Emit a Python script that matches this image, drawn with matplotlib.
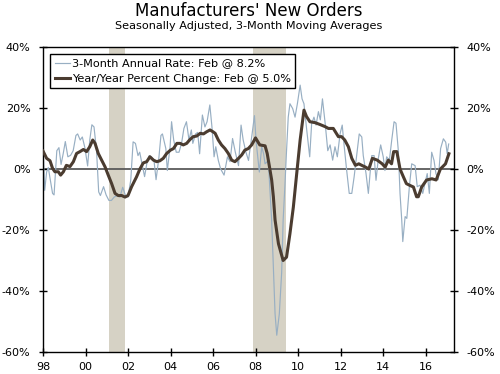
import matplotlib
matplotlib.use("Agg")
import matplotlib.pyplot as plt

# 3-month annual rate (thin line), decimal year / percent
rate_dates = [
    1998.00, 1998.08, 1998.17, 1998.25, 1998.33, 1998.45, 1998.52, 1998.65, 1998.75, 1998.85,
    1998.95, 1999.05, 1999.17, 1999.30, 1999.42, 1999.55, 1999.63, 1999.75, 1999.85, 1999.97,
    2000.10, 2000.20, 2000.30, 2000.40, 2000.52, 2000.62, 2000.70, 2000.85, 2000.97, 2001.10,
    2001.22, 2001.35, 2001.50, 2001.62, 2001.75, 2001.87, 2002.00, 2002.13, 2002.24, 2002.35,
    2002.47, 2002.55, 2002.66, 2002.78, 2002.90, 2003.00, 2003.10, 2003.22, 2003.32, 2003.45,
    2003.55, 2003.62, 2003.78, 2003.85, 2003.98, 2004.05, 2004.15, 2004.27, 2004.40, 2004.52,
    2004.63, 2004.75, 2004.87, 2004.98, 2005.05, 2005.18, 2005.28, 2005.37, 2005.50, 2005.62,
    2005.72, 2005.85, 2005.95, 2006.05, 2006.13, 2006.25, 2006.36, 2006.52, 2006.68, 2006.80,
    2006.92, 2007.05, 2007.20, 2007.32, 2007.42, 2007.55, 2007.67, 2007.83, 2007.95, 2008.03,
    2008.18, 2008.29, 2008.38, 2008.45, 2008.60, 2008.76, 2008.84, 2008.92, 2009.00, 2009.12,
    2009.23, 2009.30, 2009.38, 2009.46, 2009.54, 2009.62, 2009.75, 2009.86, 2009.97, 2010.10,
    2010.19, 2010.28, 2010.41, 2010.55, 2010.64, 2010.75, 2010.85, 2010.96, 2011.05, 2011.15,
    2011.28, 2011.40, 2011.51, 2011.63, 2011.74, 2011.85, 2011.98, 2012.08, 2012.16, 2012.29,
    2012.41, 2012.53, 2012.64, 2012.76, 2012.88, 2013.00, 2013.07, 2013.20, 2013.31, 2013.39,
    2013.47, 2013.58, 2013.67, 2013.78, 2013.89, 2014.01, 2014.09, 2014.17, 2014.30, 2014.41,
    2014.52, 2014.61, 2014.72, 2014.80, 2014.88, 2014.93, 2015.04, 2015.12, 2015.24, 2015.35,
    2015.51, 2015.61, 2015.74, 2015.87, 2015.98, 2016.08, 2016.18, 2016.29, 2016.40, 2016.49,
    2016.60, 2016.71, 2016.84, 2016.95, 2017.02, 2017.09,
]
rate_values = [
    7.5, -7.0, -1.0, 0.5, -3.0, -8.0, -8.5, 6.0, 7.0, 1.5,
    5.0, 9.0, 4.0, 4.5, 6.0, 11.0, 11.5, 9.5, 10.5, 7.0,
    1.0, 9.5, 14.5, 13.8, 6.0, -7.5, -8.7, -5.8, -8.5, -10.3,
    -10.3, -9.2, -8.7, -9.2, -6.0, -8.5, -9.2, -3.6, 8.9, 8.4,
    4.4, 5.5, 1.7, -2.5, 2.4, 4.4, 4.0, 3.0, -3.5, 3.5,
    11.0, 11.5, 6.7, -0.5, 7.3, 15.5, 9.5, 5.5, 5.5, 8.4,
    13.3, 15.5, 9.5, 12.8, 8.4, 11.5, 12.0, 5.0, 17.7, 13.8,
    15.5, 21.0, 13.8, 4.0, 7.3, 2.8, 0.0, -2.0, 4.0, 2.4,
    10.0, 5.5, 1.1, 14.4, 9.5, 5.5, 2.8, 11.0, 17.5, 9.0,
    -1.0, 7.3, 5.0, 1.7, 2.8, -16.8, -32.0, -47.5, -54.5, -47.5,
    -34.0, -16.8, -5.9, 6.0, 17.0, 21.4, 19.8, 17.0, 21.4, 27.5,
    23.0, 21.4, 12.8, 4.0, 14.8, 17.0, 14.4, 18.8, 16.1, 23.0,
    14.8, 6.0, 7.9, 2.9, 7.3, 4.0, 11.6, 14.4, 8.4, -0.5,
    -8.0, -8.0, -2.6, 4.4, 11.5, 10.5, 4.4, -1.5, -8.0, -1.5,
    4.4, 4.4, -3.7, 3.5, 7.9, 4.0, -0.5, 4.0, 2.9, 9.5,
    15.5, 15.0, 6.0, -8.0, -16.7, -23.8, -15.6, -16.2, -5.8, 1.7,
    1.1, -5.8, -5.3, -8.0, -4.5, -1.5, -8.0, 5.5, 2.8, -1.5,
    -3.5, 6.7, 9.9, 8.8, 5.0, 8.2,
]

# year/year percent change (thick line)
yoy_dates = [
    1998.00, 1998.17, 1998.33, 1998.45, 1998.56, 1998.72, 1998.83, 1998.96, 1999.10, 1999.27,
    1999.43, 1999.58, 1999.74, 1999.90, 2000.05, 2000.20, 2000.34, 2000.45, 2000.60, 2000.76,
    2000.92, 2001.07, 2001.23, 2001.39, 2001.54, 2001.70, 2001.86, 2002.00, 2002.17, 2002.40,
    2002.56, 2002.72, 2002.88, 2003.03, 2003.20, 2003.35, 2003.50, 2003.66, 2003.82, 2004.00,
    2004.14, 2004.30, 2004.45, 2004.60, 2004.76, 2004.92, 2005.07, 2005.23, 2005.40, 2005.55,
    2005.70, 2005.86, 2006.00, 2006.10, 2006.25, 2006.40, 2006.56, 2006.72, 2006.88, 2007.03,
    2007.20, 2007.35, 2007.50, 2007.66, 2007.82, 2008.00, 2008.20, 2008.45, 2008.55, 2008.65,
    2008.76, 2008.84, 2008.92, 2009.08, 2009.30, 2009.46, 2009.62, 2009.78, 2009.94, 2010.10,
    2010.28, 2010.40, 2010.56, 2010.80, 2011.03, 2011.27, 2011.43, 2011.66, 2011.90, 2012.05,
    2012.20, 2012.37, 2012.53, 2012.70, 2012.86, 2013.00, 2013.18, 2013.33, 2013.50, 2013.73,
    2013.96, 2014.10, 2014.25, 2014.40, 2014.50, 2014.65, 2014.80, 2014.96, 2015.10, 2015.27,
    2015.43, 2015.58, 2015.66, 2015.82, 2016.05, 2016.30, 2016.50, 2016.70, 2016.94, 2017.10,
]
yoy_values = [
    5.9, 3.5, 2.7, 0.2, -0.9, -0.9, -2.0, -0.9, 1.2, 0.8,
    2.4, 5.1, 5.7, 6.4, 5.7, 7.3, 9.5, 8.4, 5.1, 2.9,
    0.7, -2.0, -4.8, -8.0, -8.7, -8.7, -9.2, -8.7, -5.8, -2.6,
    0.0, 2.0, 2.4, 4.0, 2.9, 2.4, 2.7, 3.5, 5.1, 6.2,
    6.7, 8.4, 8.4, 7.9, 8.4, 9.7, 10.6, 10.8, 11.7, 11.5,
    12.2, 12.8, 12.2, 11.7, 9.5, 7.9, 6.7, 5.1, 2.9, 2.4,
    3.5, 4.6, 6.2, 6.7, 7.9, 10.2, 7.9, 7.6, 5.1, 1.0,
    -3.6, -9.1, -16.7, -24.5, -30.0, -28.9, -21.2, -12.5, -1.4, 9.5,
    19.3, 17.2, 15.5, 15.2, 14.6, 13.9, 13.3, 13.3, 10.6, 10.6,
    9.5, 7.3, 3.5, 1.2, 1.7, 1.2, 0.6, 0.0, 3.5, 2.9,
    1.7, 0.6, 2.9, 1.7, 5.7, 5.7, 0.0, -2.6, -4.8, -5.4,
    -5.9, -9.1, -9.1, -5.9, -3.6, -3.2, -3.6, 0.0, 1.7, 5.0,
]

recession_start = [2001.12, 2007.87]
recession_end = [2001.86, 2009.43]

x_ticks = [1998, 2000, 2002, 2004, 2006, 2008, 2010, 2012, 2014, 2016]
x_labels = ["98", "00", "02", "04", "06", "08", "10", "12", "14", "16"]
y_ticks = [-60, -40, -20, 0, 20, 40]

plt.rcParams["font.family"] = "DejaVu Sans"

fig = plt.figure(figsize=(5.0, 3.74), dpi=100)
ax = fig.add_axes([43 / 500, 22 / 374, 411 / 500, 305 / 374])

for s, e in zip(recession_start, recession_end):
    ax.axvspan(s, e, color="#d6d2c5", lw=0, zorder=0)

ax.axhline(0, color="#5a5a5a", lw=1.3, zorder=1)

ax.plot(rate_dates, rate_values, color="#98afc3", lw=0.85, zorder=2,
        label="3-Month Annual Rate: Feb @ 8.2%")
ax.plot(yoy_dates, yoy_values, color="#4b3c30", lw=2.2, zorder=3,
        label="Year/Year Percent Change: Feb @ 5.0%")

ax.set_xlim(1998.0, 2017.34)
ax.set_ylim(-60, 40)
ax.set_xticks(x_ticks)
ax.set_xticklabels(x_labels)
ax.set_yticks(y_ticks)
ax.set_yticklabels([f"{v}%" for v in y_ticks])

ax.tick_params(axis="both", direction="inout", length=6, width=1, labelsize=8,
               colors="black")
ax.tick_params(axis="y", right=True, labelright=True, pad=6)
ax.tick_params(axis="x", pad=4)
for sp in ax.spines.values():
    sp.set_linewidth(1.0)

leg = ax.legend(loc="upper left", bbox_to_anchor=(50 / 500, 1 - 54 / 374),
                bbox_transform=fig.transFigure, borderaxespad=0, fontsize=8.1,
                fancybox=False, edgecolor="black", framealpha=1,
                handlelength=1.4, handletextpad=0.15, borderpad=0.4,
                labelspacing=0.45)
leg.get_frame().set_linewidth(1.0)

fig.text(0.497, 1 - 16 / 374, "Manufacturers' New Orders", ha="center",
         va="baseline", fontsize=12)
fig.text(0.497, 1 - 29 / 374, "Seasonally Adjusted, 3-Month Moving Averages",
         ha="center", va="baseline", fontsize=8.1)

fig.savefig("out.png", dpi=100)
